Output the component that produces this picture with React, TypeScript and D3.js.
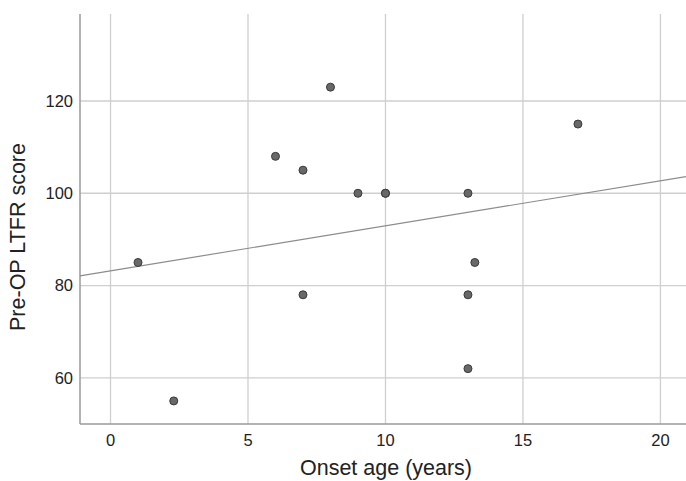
import React, { useEffect, useRef } from 'react';
import * as d3 from 'd3';

// data
const onsetAge = [1, 2.3, 6, 7, 8, 9, 10, 10, 13, 17, 7, 13, 13.25, 13];
const ltfrScore = [85, 55, 108, 105, 123, 100, 100, 100, 100, 115, 78, 78, 85, 62];
const xTicks = [0, 5, 10, 15, 20];
const yTicks = [60, 80, 100, 120];
// fit line as drawn (intercept, slope)
const fitLine = [83.2, 0.975];

const W = 686;
const H = 481;

const App = () => {
    const node = useRef<SVGSVGElement | null>(null);

    useEffect(() => {
        const svg = d3.select(node.current);
        svg.selectAll('*').remove();

        const left = 80, right = 686, top = 14, bottom = 424;
        const x = d3.scaleLinear().domain([-1.11, 20.93]).range([left, right]);
        const y = d3.scaleLinear().domain([50, 138.85]).range([bottom, top]);

        const font = '"Liberation Sans", Arial, sans-serif';

        // grid
        svg.append('g').selectAll('line').data(xTicks).enter().append('line')
            .attr('x1', d => x(d)).attr('x2', d => x(d))
            .attr('y1', top).attr('y2', bottom)
            .style('stroke', '#cfcfcf').style('stroke-width', '1.3px');
        svg.append('g').selectAll('line').data(yTicks).enter().append('line')
            .attr('x1', left).attr('x2', right)
            .attr('y1', d => y(d)).attr('y2', d => y(d))
            .style('stroke', '#cfcfcf').style('stroke-width', '1.3px');

        // axes
        svg.append('line').attr('x1', left).attr('x2', left).attr('y1', top).attr('y2', bottom)
            .style('stroke', '#9a9a9a').style('stroke-width', '1.5px');
        svg.append('line').attr('x1', left).attr('x2', right).attr('y1', bottom).attr('y2', bottom)
            .style('stroke', '#9a9a9a').style('stroke-width', '1.5px');

        // tick labels
        svg.append('g').selectAll('text').data(xTicks).enter().append('text')
            .attr('x', d => x(d)).attr('y', 446)
            .attr('text-anchor', 'middle')
            .style('font-family', font).style('font-size', '16.5px').style('fill', '#222')
            .text(d => d);
        svg.append('g').selectAll('text').data(yTicks).enter().append('text')
            .attr('x', 73).attr('y', d => y(d)).attr('dy', '0.35em')
            .attr('text-anchor', 'end')
            .style('font-family', font).style('font-size', '16.5px').style('fill', '#222')
            .text(d => d);

        // fit line
        const [b0, b1] = fitLine;
        const xd = x.domain();
        svg.append('path')
            .datum(xd)
            .attr('d', d3.line<number>().x(d => x(d)).y(d => y(b0 + b1 * d)))
            .style('stroke', '#8c8c8c').style('stroke-width', '1.2px').style('fill', 'none');

        // points
        svg.append('g').selectAll('circle').data(onsetAge).enter().append('circle')
            .attr('cx', d => x(d)).attr('cy', (d, i) => y(ltfrScore[i]))
            .attr('r', 4)
            .style('fill', '#686868').style('stroke', '#3a3a3a').style('stroke-width', '1px');

        // axis titles
        svg.append('text')
            .attr('x', 386).attr('y', 475)
            .attr('text-anchor', 'middle')
            .style('font-family', font).style('font-size', '21.5px').style('fill', '#222')
            .text('Onset age (years)');
        svg.append('text')
            .attr('transform', 'translate(25,237) rotate(-90)')
            .attr('text-anchor', 'middle')
            .style('font-family', font).style('font-size', '21.5px').style('fill', '#222')
            .text('Pre-OP LTFR score');
    }, []);

    return <svg ref={node} width={W} height={H}
                style={{position: 'absolute', left: 0, top: 0, background: '#fff'}} />;
};

export default App;
